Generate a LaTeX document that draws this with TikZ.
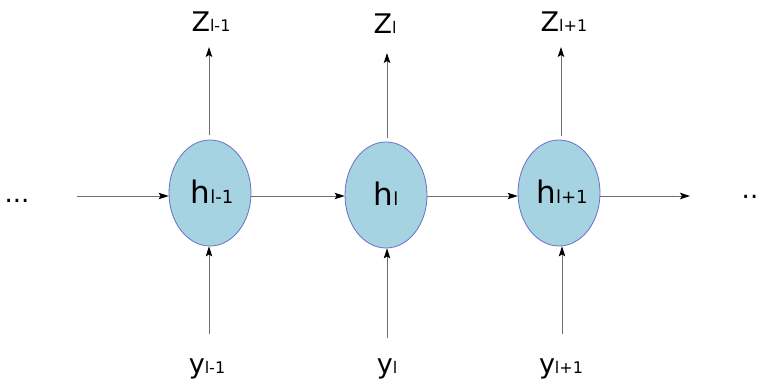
\documentclass[tikz,border=0pt]{standalone}
\usepackage{fontspec}
\setmainfont{DejaVu Sans}
\usetikzlibrary{arrows.meta,shapes.geometric}
\definecolor{cellfill}{RGB}{166,211,226}
\definecolor{celledge}{RGB}{105,112,200}
\definecolor{linegray}{RGB}{110,110,110}
\tikzset{
  cell/.style={ellipse, draw=celledge, line width=0.8pt, fill=cellfill,
    minimum width=82pt, minimum height=106pt, inner sep=0pt},
  arr/.style={draw=linegray, line width=0.9pt,
    -{Stealth[length=10pt,width=6.5pt,inset=2pt,color=black]}},
  lab/.style={anchor=base, inner sep=0pt, font=\fontsize{27}{27}\selectfont},
  hlab/.style={anchor=base, inner sep=0pt, font=\fontsize{31}{31}\selectfont},
  dots/.style={anchor=base, inner sep=0pt, font=\fontsize{26}{26}\selectfont}
}
\newcommand{\sbs}[1]{{\fontsize{16}{16}\selectfont #1}}
\newcommand{\hsbs}[1]{{\fontsize{18}{18}\selectfont #1}}
\begin{document}
\begin{tikzpicture}[x=1pt,y=-1pt]
\fill[white] (0,0) rectangle (760,385);
\useasboundingbox (0,0) rectangle (760,385);
\node[cell] (h1) at (210,193) {};
\node[cell] (h2) at (386,195) {};
\node[cell] (h3) at (559,193) {};
\node[hlab] (hl1) at (212,203) {h\hsbs{l-1}};
\node[hlab] (hl2) at (386,205) {h\hsbs{l}};
\node[hlab] (hl3) at (562,203) {h\hsbs{l+1}};
% top labels
\node[lab] (z1) at (211,32) {Z\sbs{l-1}};
\node[lab] (z2) at (385,34) {Z\sbs{l}};
\node[lab] (z3) at (564,32) {Z\sbs{l+1}};
% bottom labels
\node[lab] (y1) at (207,373) {y\sbs{l-1}};
\node[lab] (y2) at (387,373) {y\sbs{l}};
\node[lab] (y3) at (561,373) {y\sbs{l+1}};
% dots
\node[dots] (dl) at (17,202) {...};
\node[dots] (dr) at (750,198) {..};
% coordinates
\coordinate (in0) at (77,196);
\coordinate (out0) at (690,196);
\coordinate (zt1) at (209,47);
\coordinate (zt2) at (387,53);
\coordinate (zt3) at (561,47);
\coordinate (yb1) at (209,334);
\coordinate (yb2) at (387,338);
\coordinate (yb3) at (562,334);
% horizontal arrows
\draw[arr] (in0) -- (in0 -| h1.west);
\draw[arr] (h1.east |- 0,196) -- (h2.west |- 0,196);
\draw[arr] (h2.east |- 0,196) -- (h3.west |- 0,196);
\draw[arr] (h3.east |- 0,196) -- (out0);
% vertical arrows
\draw[arr] ([yshift=5pt]h1.north -| zt1) -- (zt1);
\draw[arr] ([yshift=4pt]h2.north -| zt2) -- (zt2);
\draw[arr] ([yshift=4pt]h3.north -| zt3) -- (zt3);
\draw[arr] (yb1) -- (yb1 |- h1.south);
\draw[arr] (yb2) -- (yb2 |- h2.south);
\draw[arr] (yb3) -- (yb3 |- h3.south);
\end{tikzpicture}
\end{document}
